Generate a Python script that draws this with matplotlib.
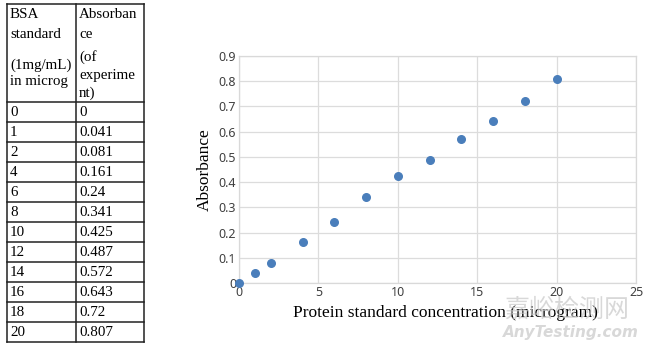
import matplotlib.pyplot as plt

# BSA standard data
bsa_ug = [0, 1, 2, 4, 6, 8, 10, 12, 14, 16, 18, 20]
absorb = [0, 0.041, 0.081, 0.161, 0.24, 0.341, 0.425, 0.487, 0.572, 0.643, 0.72, 0.807]
absorb_txt = ['0', '0.041', '0.081', '0.161', '0.24', '0.341', '0.425',
              '0.487', '0.572', '0.643', '0.72', '0.807']

head_col1 = [('BSA', 15), ('standard', 35), ('(1mg/mL)', 65), ('in microg', 82)]
head_col2 = [('Absorban', 15), ('ce', 35), ('(of', 57), ('experime', 75), ('nt)', 93)]

W, H = 650, 346
fig = plt.figure(figsize=(W / 100, H / 100), dpi=100)

# ---- table on the left, drawn in pixel coordinates ----
tab = fig.add_axes([0, 0, 1, 1])
tab.set_xlim(0, W)
tab.set_ylim(H, 0)
tab.axis('off')

x0, xm, x1 = 7, 76, 144
y_top, y_head, row_h = 4, 102, 20
y_bot = y_head + row_h * len(bsa_ug)
lw = 1.1
for x in (x0, xm, x1):
    tab.plot([x, x], [y_top, y_bot], color='#222222', lw=lw, solid_capstyle='projecting')
tab.plot([x0, x1], [y_top, y_top], color='#222222', lw=lw)
for i in range(len(bsa_ug) + 1):
    y = y_head + i * row_h
    tab.plot([x0, x1], [y, y], color='#222222', lw=lw)

serif = 'Liberation Serif'
fs = 10.8
for txt, y in head_col1:
    tab.text(x0 + 3, y, txt, family=serif, fontsize=fs, va='center', ha='left')
for txt, y in head_col2:
    tab.text(xm + 3, y, txt, family=serif, fontsize=fs, va='center', ha='left')
for i, (c, a) in enumerate(zip(bsa_ug, absorb_txt)):
    yc = y_head + i * row_h + row_h / 2 + 0.5
    tab.text(x0 + 3, yc, str(c), family=serif, fontsize=fs, va='center', ha='left')
    tab.text(xm + 3, yc, a, family=serif, fontsize=fs, va='center', ha='left')

# ---- scatter chart ----
ax = fig.add_axes([239 / W, 1 - 283 / H, (636 - 239) / W, (283 - 56) / H])
ax.scatter(bsa_ug, absorb, s=30, color='#4a7ebb', zorder=3, clip_on=False)
ax.set_xlim(0, 25)
ax.set_ylim(0, 0.9)
ax.set_xticks(range(0, 26, 5))
ax.set_yticks([i / 10 for i in range(10)])
ax.set_yticklabels(['0'] + ['%.1f' % (i / 10) for i in range(1, 10)])
ax.grid(True, color='#dcdcdc', lw=0.9)
ax.set_axisbelow(True)
for s in ax.spines.values():
    s.set_color('#d9d9d9')
    s.set_linewidth(0.9)
ax.tick_params(length=0, labelsize=9.0, colors='#404040', pad=2)
for lab in ax.get_xticklabels() + ax.get_yticklabels():
    lab.set_family('Noto Sans')
ax.set_xlabel('Protein standard concentration (microgram)', family=serif,
              fontsize=12.5)
ax.xaxis.set_label_coords(0.519, -0.095)
ax.set_ylabel('Absorbance', family=serif, fontsize=12.5, labelpad=4)

# watermark
fig.text(567, H - 310, '嘉峪检测网', family=['Noto Sans CJK SC', 'DejaVu Sans'],
         fontsize=18, color='#c8c8c8', alpha=0.7, ha='center', va='center',
         transform=None)
fig.text(571, H - 332, 'AnyTesting.com', family='DejaVu Sans', style='italic',
         weight='bold', fontsize=11, color='#c8c8c8', alpha=0.7, ha='center',
         va='center', transform=None)

fig.savefig('out.png', dpi=100)
